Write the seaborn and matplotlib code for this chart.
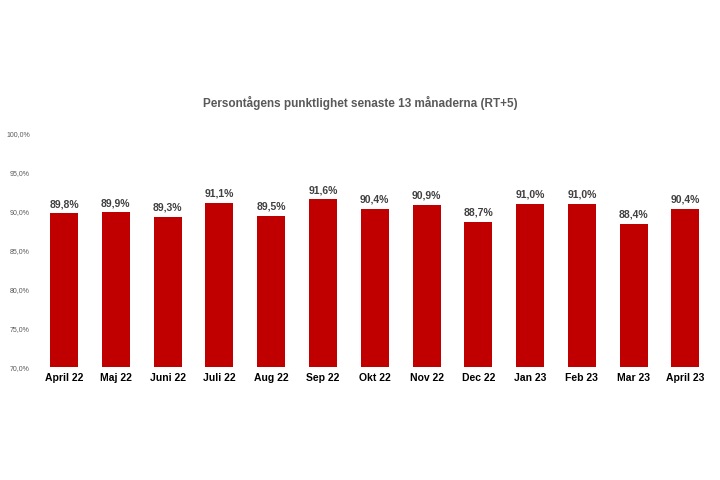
import seaborn as sns
import matplotlib.pyplot as plt
import pandas as pd

# Data
months = ["April 22", "Maj 22", "Juni 22", "Juli 22", "Aug 22", "Sep 22", "Okt 22",
          "Nov 22", "Dec 22", "Jan 23", "Feb 23", "Mar 23", "April 23"]
punctuality = [89.8, 89.9, 89.3, 91.1, 89.5, 91.6, 90.4, 90.9, 88.7, 91.0, 91.0, 88.4, 90.4]
y_ticks = [70, 75, 80, 85, 90, 95, 100]

df = pd.DataFrame({"month": months, "value": punctuality})

sns.set_style("white")
plt.rcParams["font.family"] = ["Liberation Sans", "DejaVu Sans"]

fig = plt.figure(figsize=(7.2, 4.8), dpi=100)
ax = fig.add_axes([0.053, 0.235, 0.935, 0.486])

sns.barplot(data=df, x="month", y="value", color="#C00000", width=0.54,
            saturation=1, edgecolor="none", ax=ax)

ax.set_ylim(70, 100)
ax.set_xlim(-0.5, len(months) - 0.5)
ax.set_yticks(y_ticks)
ax.set_yticklabels([f"{t:.1f}%".replace(".", ",") for t in y_ticks],
                   fontsize=5, color="#595959")
ax.tick_params(axis="x", length=0, pad=4.5, labelsize=7.5, labelcolor="black")
ax.tick_params(axis="y", length=0, pad=6)
for lbl in ax.get_xticklabels():
    lbl.set_fontweight("bold")
ax.set_xlabel("")
ax.set_ylabel("")
sns.despine(ax=ax, left=True, bottom=True)

# value labels above the bars
for i, v in enumerate(punctuality):
    ax.annotate(f"{v:.1f}%".replace(".", ","), (i, v), xytext=(0, 3),
                textcoords="offset points", ha="center", va="bottom",
                fontsize=7.5, fontweight="bold", color="#404040")

fig.text(0.5, 0.785, "Persontågens punktlighet senaste 13 månaderna (RT+5)",
         ha="center", va="center", fontsize=8.5, fontweight="bold", color="#595959")

fig.savefig("out.png", dpi=100, facecolor="white")
